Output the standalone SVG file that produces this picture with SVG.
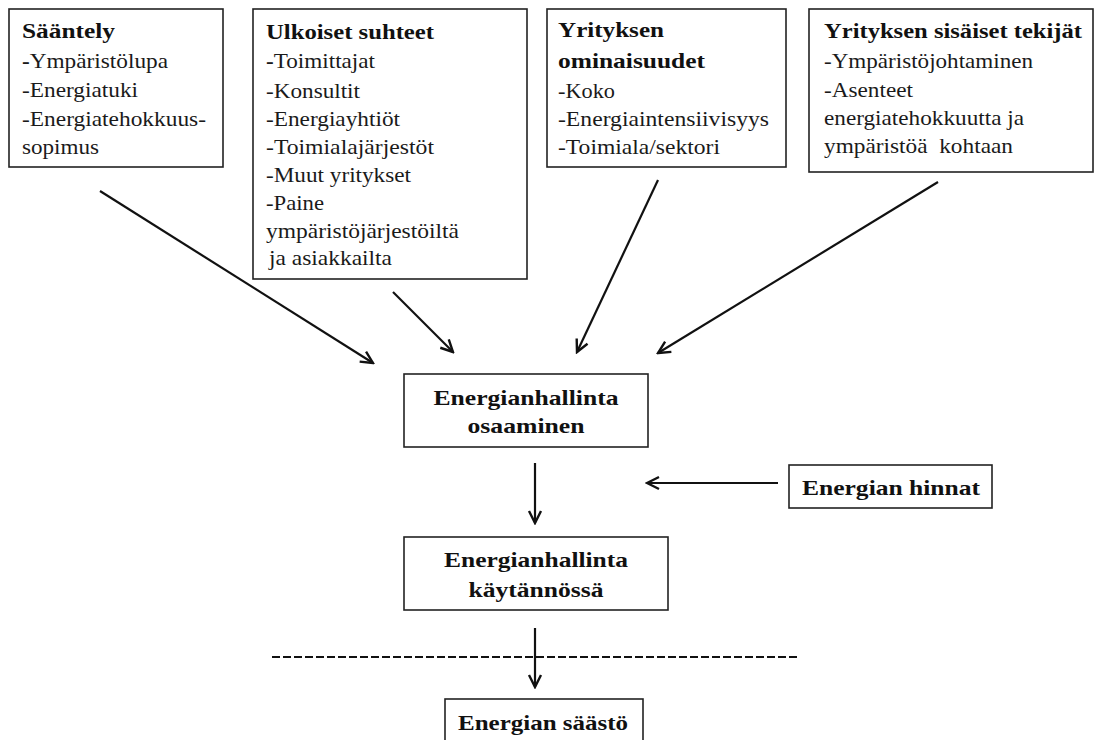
<svg xmlns="http://www.w3.org/2000/svg" width="1099" height="740" viewBox="0 0 1099 740">
<defs>
<style>
.box{fill:#fff;stroke:#222;stroke-width:1.6}
text{font-family:'Liberation Serif','Times New Roman',serif;font-size:22px;fill:#1a1a1a}
.b{font-weight:bold;fill:#111;font-size:21px}
.c{text-anchor:middle}
.con{stroke:#111;stroke-width:2.2;fill:none}
.dash{stroke:#111;stroke-width:2;stroke-dasharray:8 3;fill:none}
</style>
<marker id="ah" markerUnits="userSpaceOnUse" markerWidth="16" markerHeight="16" viewBox="-14 -8 16 16" refX="0" refY="0" orient="auto">
<path d="M-12,-6 L0,0 L-12,6" fill="none" stroke="#111" stroke-width="2.4" stroke-linejoin="miter"/>
</marker>
</defs>
<rect width="1099" height="740" fill="#fff"/>

<g id="saantely">
<rect class="box" x="9" y="9" width="214" height="158"/>
<text class="b" x="22" y="38" textLength="93" lengthAdjust="spacingAndGlyphs">Sääntely</text>
<text x="22" y="68" textLength="146" lengthAdjust="spacingAndGlyphs"><tspan font-weight="bold">-</tspan>Ympäristölupa</text>
<text x="22" y="97" textLength="116" lengthAdjust="spacingAndGlyphs">-Energiatuki</text>
<text x="22" y="126" textLength="184" lengthAdjust="spacingAndGlyphs">-Energiatehokkuus-</text>
<text x="22" y="154" textLength="77" lengthAdjust="spacingAndGlyphs">sopimus</text>
</g>

<g id="ulkoiset">
<rect class="box" x="253" y="9" width="274" height="270"/>
<text class="b" x="266" y="39" textLength="168" lengthAdjust="spacingAndGlyphs">Ulkoiset suhteet</text>
<text x="266" y="68" textLength="109" lengthAdjust="spacingAndGlyphs"><tspan font-weight="bold">-</tspan>Toimittajat</text>
<text x="266" y="98" textLength="94" lengthAdjust="spacingAndGlyphs">-Konsultit</text>
<text x="266" y="126" textLength="134" lengthAdjust="spacingAndGlyphs">-Energiayhtiöt</text>
<text x="266" y="154" textLength="168" lengthAdjust="spacingAndGlyphs">-Toimialajärjestöt</text>
<text x="266" y="182" textLength="145" lengthAdjust="spacingAndGlyphs">-Muut yritykset</text>
<text x="266" y="210" textLength="58" lengthAdjust="spacingAndGlyphs">-Paine</text>
<text x="266" y="238" textLength="193" lengthAdjust="spacingAndGlyphs">ympäristöjärjestöiltä</text>
<text x="269" y="265" textLength="123" lengthAdjust="spacingAndGlyphs">ja asiakkailta</text>
</g>

<g id="ominaisuudet">
<rect class="box" x="547" y="9" width="239" height="158"/>
<text class="b" x="558" y="37" textLength="106" lengthAdjust="spacingAndGlyphs">Yrityksen</text>
<text class="b" x="558" y="68" textLength="147" lengthAdjust="spacingAndGlyphs">ominaisuudet</text>
<text x="558" y="98" textLength="57" lengthAdjust="spacingAndGlyphs">-Koko</text>
<text x="558" y="126" textLength="211" lengthAdjust="spacingAndGlyphs">-Energiaintensiivisyys</text>
<text x="558" y="154" textLength="162" lengthAdjust="spacingAndGlyphs">-Toimiala/sektori</text>
</g>

<g id="sisaiset">
<rect class="box" x="809" y="9" width="284" height="163"/>
<text class="b" x="824" y="38" textLength="258" lengthAdjust="spacingAndGlyphs">Yrityksen sisäiset tekijät</text>
<text x="824" y="68" textLength="209" lengthAdjust="spacingAndGlyphs">-Ympäristöjohtaminen</text>
<text x="824" y="97" textLength="89" lengthAdjust="spacingAndGlyphs">-Asenteet</text>
<text x="824" y="125" textLength="200" lengthAdjust="spacingAndGlyphs">energiatehokkuutta ja</text>
<text x="824" y="153" textLength="189" lengthAdjust="spacingAndGlyphs" xml:space="preserve">ympäristöä  kohtaan</text>
</g>

<g id="osaaminen">
<rect class="box" x="404" y="374" width="244" height="73"/>
<text class="b c" x="526" y="405" style="font-size:22px" textLength="185" lengthAdjust="spacingAndGlyphs">Energianhallinta</text>
<text class="b c" x="526" y="433" style="font-size:22px" textLength="117" lengthAdjust="spacingAndGlyphs">osaaminen</text>
</g>

<g id="hinnat">
<rect class="box" x="789" y="465" width="203" height="43"/>
<text class="b" x="802" y="495" style="font-size:22px" textLength="178" lengthAdjust="spacingAndGlyphs">Energian hinnat</text>
</g>

<g id="kaytannossa">
<rect class="box" x="404" y="537" width="264" height="73"/>
<text class="b c" x="536" y="567" style="font-size:22px" textLength="184" lengthAdjust="spacingAndGlyphs">Energianhallinta</text>
<text class="b c" x="536" y="597" style="font-size:22px" textLength="135" lengthAdjust="spacingAndGlyphs">käytännössä</text>
</g>

<g id="saasto">
<rect class="box" x="445" y="699" width="198" height="60"/>
<text class="b" x="458" y="730" style="font-size:22px" textLength="170" lengthAdjust="spacingAndGlyphs">Energian säästö</text>
</g>

<g id="connectors">
<line class="con" x1="100" y1="191" x2="373" y2="363" marker-end="url(#ah)"/>
<line class="con" x1="393" y1="292" x2="453" y2="352" marker-end="url(#ah)"/>
<line class="con" x1="658" y1="180" x2="577" y2="352" marker-end="url(#ah)"/>
<line class="con" x1="938" y1="182" x2="658" y2="353" marker-end="url(#ah)"/>
<line class="con" x1="535" y1="463" x2="535" y2="523" marker-end="url(#ah)"/>
<line class="con" x1="778" y1="483" x2="647" y2="483" marker-end="url(#ah)"/>
<line class="con" x1="535" y1="628" x2="535" y2="687" marker-end="url(#ah)"/>
<line class="dash" x1="272" y1="657" x2="799" y2="657"/>
</g>
</svg>
